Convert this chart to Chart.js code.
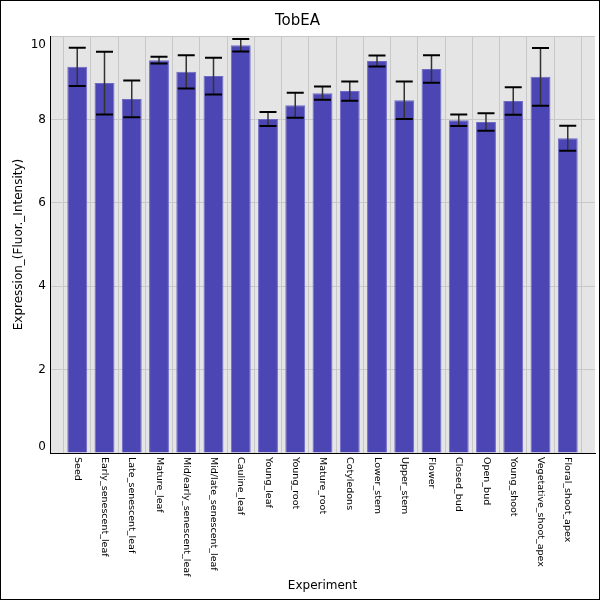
<!DOCTYPE html>
<html>
<head>
<meta charset="utf-8">
<script src="https://cdn.jsdelivr.net/npm/chart.js@4.4.1/dist/chart.umd.min.js"></script>
<style>
  html, body { margin: 0; padding: 0; background: #fff; }
  #wrap { width: 600px; height: 600px; }
</style>
</head>
<body>
<div id="wrap"><canvas id="chart" width="600" height="600"></canvas></div>
<script>
const categories = [
  "Seed", "Early_senescent_leaf", "Late_senescent_leaf", "Mature_leaf",
  "Mid/early_senescent_leaf", "Mid/late_senescent_leaf", "Cauline_leaf",
  "Young_leaf", "Young_root", "Mature_root", "Cotyledons", "Lower_stem",
  "Upper_stem", "Flower", "Closed_bud", "Open_bud", "Young_shoot",
  "Vegetative_shoot_apex", "Floral_shoot_apex"
];
const expression = [9.26, 8.87, 8.49, 9.42, 9.14, 9.04, 9.78, 8.01, 8.34, 8.63,
  8.68, 9.40, 8.46, 9.21, 7.98, 7.94, 8.44, 9.02, 7.55];
const errors = [0.46, 0.75, 0.44, 0.08, 0.40, 0.44, 0.15, 0.17, 0.30, 0.16,
  0.23, 0.13, 0.45, 0.33, 0.14, 0.21, 0.33, 0.69, 0.30];
const yTicks = [0, 2, 4, 6, 8, 10];

// empty slot at each end so the bars sit one step in from the frame
const labels = ["", ...categories, ""];
const values = [null, ...expression, null];

const plotBackground = {
  id: "plotBackground",
  beforeDraw(chart) {
    const { ctx, chartArea: a } = chart;
    ctx.save();
    ctx.fillStyle = "#e5e5e5";
    ctx.fillRect(a.left, a.top, a.right - a.left, a.bottom - a.top);
    ctx.restore();
  }
};

const errorBars = {
  id: "errorBars",
  afterDatasetsDraw(chart) {
    const { ctx } = chart;
    const x = chart.scales.x, y = chart.scales.y;
    ctx.save();
    expression.forEach((v, i) => {
      const px = x.getPixelForValue(i + 1);
      const top = y.getPixelForValue(v + errors[i]);
      const bot = y.getPixelForValue(v - errors[i]);
      ctx.strokeStyle = "#333";
      ctx.lineWidth = 1.5;
      ctx.beginPath();
      ctx.moveTo(px, top);
      ctx.lineTo(px, bot);
      ctx.stroke();
      ctx.strokeStyle = "#000";
      ctx.lineWidth = 2;
      ctx.beginPath();
      ctx.moveTo(px - 8.5, top); ctx.lineTo(px + 8.5, top);
      ctx.moveTo(px - 8.5, bot); ctx.lineTo(px + 8.5, bot);
      ctx.stroke();
    });
    ctx.restore();
  }
};

// category names run top-to-bottom under each bar; y labels kept inside the frame
const axisLabels = {
  id: "axisLabels",
  afterDraw(chart) {
    const { ctx, chartArea } = chart;
    const x = chart.scales.x, y = chart.scales.y;
    ctx.save();
    ctx.fillStyle = "#000";
    ctx.font = "9.5px 'DejaVu Sans'";
    ctx.textAlign = "left";
    ctx.textBaseline = "middle";
    categories.forEach((c, i) => {
      ctx.save();
      ctx.translate(x.getPixelForValue(i + 1), chartArea.bottom + 4);
      ctx.rotate(Math.PI / 2);
      ctx.fillText(c, 0, 0);
      ctx.restore();
    });

    ctx.font = "12px 'DejaVu Sans'";
    ctx.textAlign = "right";
    yTicks.forEach(v => {
      let py = y.getPixelForValue(v);
      py = Math.max(py, chartArea.top + 8.5);
      py = Math.min(py, chartArea.bottom - 6);
      ctx.fillText(String(v), chartArea.left - 4, py);
    });

    ctx.strokeStyle = "#000";
    ctx.lineWidth = 1;
    ctx.strokeRect(0.5, 0.5, 599, 599);
    ctx.restore();
  }
};

new Chart(document.getElementById("chart"), {
  type: "bar",
  data: {
    labels,
    datasets: [{
      label: "Expression",
      data: values,
      backgroundColor: "#4b46b3",
      borderColor: "#6e6ac6",
      borderWidth: 1,
      barPercentage: 0.73,
      categoryPercentage: 1
    }]
  },
  options: {
    responsive: false,
    animation: false,
    layout: { padding: { left: 0, right: 5, top: 0, bottom: 0 } },
    plugins: {
      legend: { display: false },
      tooltip: { enabled: false },
      title: {
        display: true,
        text: "TobEA",
        color: "#000",
        font: { family: "DejaVu Sans", size: 15, weight: "normal" },
        padding: { top: 12, bottom: 6 }
      }
    },
    scales: {
      x: {
        offset: false,
        grid: { color: "#c8c8c8", drawTicks: false },
        border: { color: "#000", width: 1 },
        ticks: { display: false },
        title: {
          display: true,
          text: "Experiment",
          color: "#000",
          font: { family: "DejaVu Sans", size: 12 },
          padding: { top: 0, bottom: 7 }
        },
        afterFit(scale) { scale.height = 147; }
      },
      y: {
        min: 0,
        max: 10,
        afterBuildTicks(scale) { scale.ticks = yTicks.map(v => ({ value: v })); },
        grid: { color: "#c8c8c8", drawTicks: false },
        border: { color: "#000", width: 1 },
        ticks: { display: false },
        title: {
          display: true,
          text: "Expression_(Fluor._Intensity)",
          color: "#000",
          font: { family: "DejaVu Sans", size: 12 },
          padding: { top: 12, bottom: 0 }
        },
        afterFit(scale) { scale.width = 50; }
      }
    }
  },
  plugins: [plotBackground, errorBars, axisLabels]
});
</script>
</body>
</html>
